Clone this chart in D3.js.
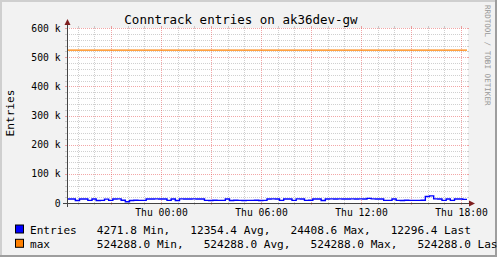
<!DOCTYPE html>
<html>
<head>
<meta charset="utf-8">
<script src="https://cdn.jsdelivr.net/npm/d3@7"></script>
<style>
body{margin:0;background:#f2f2f2;}
svg{display:block;}
text{font-family:"DejaVu Sans Mono",monospace;fill:#000;}
</style>
</head>
<body>
<div id="chart"></div>
<script>
var w = 497;
var h = 257;
// plot box (rrdtool style canvas)
var X0 = 67, X1 = 467, Y0 = 203, Y1 = 28;

var title = "Conntrack entries on ak36dev-gw";
var unitLabel = "Entries";
var watermark = "RRDTOOL / TOBI OETIKER";

// time range: 24h ending Thu 18:21
var startTime = new Date(Date.UTC(2024, 0, 3, 18, 21, 36));
var endTime = new Date(Date.UTC(2024, 0, 4, 18, 21, 36));
var stepMinutes = 15;

// conntrack entries, one sample every 15 minutes
var entries = [
  13600, 13900, 8800, 13700, 13500, 9100, 13800, 8700, 9000, 13400,
  8900, 13900, 14100, 9300, 4271.8, 8800, 9200, 8900, 9100, 13600,
  13900, 14200, 13800, 13700, 9000, 13500, 8800, 14000, 13900, 13600,
  14300, 13800, 13700, 9100, 8700, 9300, 8900, 9000, 13600, 8800,
  9200, 9000, 8700, 9100, 8900, 9300, 8800, 9000, 13800, 14000,
  13700, 9100, 13900, 13600, 8900, 14100, 13800, 9000, 9200, 13700,
  13900, 8800, 13600, 14000, 13800, 14200, 13900, 13700, 14100, 13800,
  14000, 13900, 16000, 14200, 13800, 13900, 9100, 8900, 13700, 9000,
  8800, 9200, 8900, 9100, 9000, 9300, 22100, 24408.6, 14000, 13800,
  9000, 13600, 8900, 13700, 13900, 12296.4, 12296.4
];
var maxValue = 524288;

var yTicks = [0, 100000, 200000, 300000, 400000, 500000, 600000];
var yTickLabels = ["0", "100 k", "200 k", "300 k", "400 k", "500 k", "600 k"];

var seriesNames = ["Entries", "max"];
var statNames = ["Min,", "Avg,", "Max,", "Last"];
var statsEntries = [4271.8, 12354.4, 24408.6, 12296.4];
var statsMax = [524288.0, 524288.0, 524288.0, 524288.0];

var colors = ["#0000ff", "#ff8000"];

var xScale = d3.scaleUtc().domain([startTime, endTime]).range([X0, X1]);
var yScale = d3.scaleLinear().domain([0, 600000]).range([Y0, Y1]);

var svg = d3.select("#chart").append("svg")
  .attr("width", w)
  .attr("height", h);

// background + 3d border
svg.append("rect").attr("x", 0).attr("y", 0).attr("width", w).attr("height", h).attr("fill", "#f2f2f2");
svg.append("path").attr("d", "M1,257V1H497").attr("fill", "none").attr("stroke", "#cfcfcf").attr("stroke-width", 2);
svg.append("path").attr("d", "M0,256H496V0").attr("fill", "none").attr("stroke", "#9e9e9e").attr("stroke-width", 2);

// canvas
svg.append("rect")
  .attr("x", X0).attr("y", Y1)
  .attr("width", X1 - X0 + 1).attr("height", Y0 - Y1)
  .attr("fill", "#ffffff");

var grid = svg.append("g").attr("shape-rendering", "crispEdges");
var minorCol = "rgba(150,150,150,0.45)";
var majorCol = "rgba(230,80,80,0.5)";

function px(v){ return Math.round(v) + 0.5; }

// horizontal grid
var yMinor = d3.range(20000, 600001, 20000).filter(function(v){ return v % 100000 !== 0; });
function hLine(v, col){
  var y = px(yScale(v));
  grid.append("line").attr("x1", X0 - 2).attr("x2", X0).attr("y1", y).attr("y2", y).attr("stroke", col);
  grid.append("line").attr("x1", X1).attr("x2", X1 + 2).attr("y1", y).attr("y2", y).attr("stroke", col);
  grid.append("line").attr("x1", X0).attr("x2", X1).attr("y1", y).attr("y2", y)
    .attr("stroke", col).attr("stroke-dasharray", "1,1");
}
yMinor.forEach(function(v){ hLine(v, minorCol); });
yTicks.slice(1).forEach(function(v){ hLine(v, majorCol); });

// vertical grid
var hours = d3.utcHour.every(1).range(startTime, endTime);
function vLine(t, col){
  var x = px(xScale(t));
  grid.append("line").attr("x1", x).attr("x2", x).attr("y1", Y0).attr("y2", Y0 + 2).attr("stroke", col);
  grid.append("line").attr("x1", x).attr("x2", x).attr("y1", Y1 - 2).attr("y2", Y1).attr("stroke", col);
  grid.append("line").attr("x1", x).attr("x2", x).attr("y1", Y1).attr("y2", Y0)
    .attr("stroke", col).attr("stroke-dasharray", "1,1");
}
hours.filter(function(t){ return t.getUTCHours() % 3 !== 0; }).forEach(function(t){ vLine(t, minorCol); });
d3.utcHour.every(3).range(startTime, endTime).forEach(function(t){ vLine(t, majorCol); });

// y labels
svg.append("g").selectAll("text")
  .data(yTicks)
  .enter().append("text")
  .attr("x", 60.5)
  .attr("y", function(d){ return yScale(d) + 3.5; })
  .attr("text-anchor", "end")
  .style("font-size", "9.7px")
  .text(function(d, i){ return yTickLabels[i]; });

// x labels
var fmt = d3.utcFormat("%a %H:%M");
svg.append("g").selectAll("text")
  .data(d3.utcHour.every(6).range(startTime, endTime))
  .enter().append("text")
  .attr("x", function(d){ return xScale(d) + 0.5; })
  .attr("y", 215.5)
  .attr("text-anchor", "middle")
  .style("font-size", "9.7px")
  .text(function(d){ return fmt(d); });

// data lines
var pts = entries.map(function(v, i){
  return {t: new Date(startTime.getTime() + i * stepMinutes * 60000), v: v};
});
var line = d3.line()
  .x(function(d){ return xScale(d.t); })
  .y(function(d){ return yScale(d.v); })
  .curve(d3.curveStepAfter);

svg.append("path")
  .datum([{t: startTime, v: maxValue}, {t: endTime, v: maxValue}])
  .attr("d", line)
  .attr("fill", "none")
  .attr("stroke", colors[1])
  .attr("stroke-width", 1.3);

svg.append("path")
  .datum(pts)
  .attr("d", line)
  .attr("fill", "none")
  .attr("stroke", colors[0])
  .attr("stroke-width", 1.4);

// axes + arrows
var ax = svg.append("g").attr("shape-rendering", "crispEdges");
ax.append("line").attr("x1", X0 - 4).attr("x2", X1 + 3).attr("y1", Y0 + 0.5).attr("y2", Y0 + 0.5).attr("stroke", "#444");
ax.append("line").attr("x1", X0 + 0.5).attr("x2", X0 + 0.5).attr("y1", Y0 + 4).attr("y2", Y1 - 4).attr("stroke", "#444");
svg.append("path")
  .attr("d", "M" + (X1 + 2) + "," + (Y0 - 2.5) + "L" + (X1 + 8) + "," + (Y0 + 0.5) + "L" + (X1 + 2) + "," + (Y0 + 3.5) + "Z")
  .attr("fill", "#7f1f1f");
svg.append("path")
  .attr("d", "M" + (X0 - 2.5) + "," + (Y1 - 3) + "L" + (X0 + 0.5) + "," + (Y1 - 9) + "L" + (X0 + 3.5) + "," + (Y1 - 3) + "Z")
  .attr("fill", "#7f1f1f");

// title
svg.append("text")
  .attr("x", 241)
  .attr("y", 23.5)
  .attr("text-anchor", "middle")
  .style("font-size", "12.5px")
  .text(title);

// unit label
svg.append("text")
  .attr("transform", "translate(13.5,113) rotate(-90)")
  .attr("text-anchor", "middle")
  .style("font-size", "11.1px")
  .text(unitLabel);

// watermark
svg.append("text")
  .attr("transform", "translate(485,5) rotate(90)")
  .style("font-size", "7.6px")
  .style("fill", "#999999")
  .text(watermark);

// legend
function legendLine(name, stats, y, col){
  svg.append("rect")
    .attr("x", 15.5).attr("y", y - 8.5)
    .attr("width", 8).attr("height", 8)
    .attr("fill", col).attr("stroke", "#000");
  var parts = stats.map(function(v, i){ return v.toFixed(1) + " " + statNames[i]; });
  var str = (name + "          ").slice(0, 10) + parts.join("   ");
  svg.append("text")
    .attr("x", 30)
    .attr("y", y)
    .attr("xml:space", "preserve")
    .style("white-space", "pre")
    .style("font-size", "11.1px")
    .text(str);
}
legendLine(seriesNames[0], statsEntries, 233.5, colors[0]);
legendLine(seriesNames[1], statsMax, 247.8, colors[1]);
</script>
</body>
</html>
